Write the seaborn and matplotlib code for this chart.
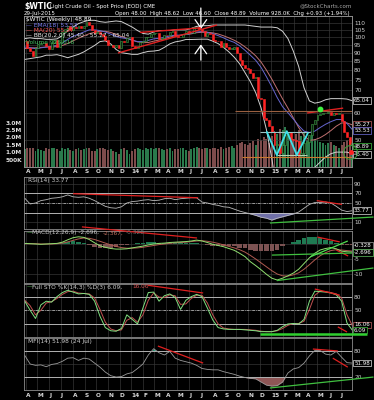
import matplotlib
matplotlib.use("Agg")
import matplotlib.pyplot as plt
import matplotlib.dates as mdates
from matplotlib.ticker import NullLocator
import numpy as np
import pandas as pd
import seaborn as sns

# weekly closes and volume (millions), 29-Mar-2013 .. 31-Jul-2015
weekly_close = [
    97.2,
    92.7, 91.3, 88.0, 93.0,
    95.6, 96.0, 96.0, 94.2, 92.0,
    96.0, 97.9, 93.7, 96.6,
    103.2, 105.9, 108.1, 104.7,
    106.9, 106.0, 107.5, 106.4, 107.7,
    110.5, 108.2, 104.7, 102.9,
    103.8, 102.0, 100.8, 97.9,
    94.6, 94.6, 93.8, 94.8, 92.7,
    97.6, 96.6, 99.3, 100.3,
    94.0, 92.7, 94.4, 96.6, 97.5,
    99.9, 100.3, 102.2, 102.6,
    102.6, 98.9, 99.5, 101.7,
    101.1, 103.7, 104.3, 100.6,
    99.8, 100.0, 102.0, 104.4, 102.7,
    102.7, 106.9, 107.3, 105.7,
    104.1, 100.8, 103.1, 102.1,
    97.9, 97.7, 97.4, 93.7, 96.0,
    93.3, 92.3, 92.4, 93.5,
    89.7, 85.8, 82.8, 81.0, 80.5,
    78.7, 75.8, 76.5, 66.2,
    65.8, 57.8, 57.1, 54.7,
    52.7, 48.4, 48.7, 45.6, 48.2,
    51.7, 52.8, 50.3, 49.8,
    49.6, 44.8, 45.7, 48.9,
    49.1, 51.6, 55.7, 57.2,
    59.2, 59.4, 59.7, 59.7, 60.3,
    59.1, 60.0, 59.6, 59.6,
    56.9, 52.7, 50.9, 48.1, 48.89,
]
weekly_volume_m = [
    1.2, 1.3, 1.25, 1.3, 1.1, 1.2, 1.15, 1.1, 1.3, 1.2,
    1.3, 1.25, 1.2, 1.1, 1.3, 1.2, 1.25, 1.15, 1.1, 1.2,
    1.25, 1.15, 1.2, 1.25, 1.3, 1.1, 1.1, 1.2, 1.25, 1.3,
    1.2, 1.15, 1.2, 1.1, 1.0, 0.9, 1.2, 1.25, 1.15, 0.9,
    1.1, 1.2, 1.3, 1.2, 1.15, 1.25, 1.2, 1.3, 1.2, 1.25,
    1.3, 1.2, 1.15, 1.2, 1.25, 1.1, 1.2, 1.2, 1.25, 1.3,
    1.15, 1.1, 1.2, 1.3, 1.35, 1.25, 1.2, 1.3, 1.25, 1.2,
    1.3, 1.25, 1.2, 1.35, 1.2, 1.3, 1.35, 1.4, 1.3, 1.5,
    1.6, 1.7, 1.55, 1.5, 1.6, 1.75, 1.5, 1.9, 1.8, 2.0,
    1.9, 1.6, 2.1, 2.4, 2.2, 2.6, 2.5, 2.7, 2.3, 2.0,
    1.9, 2.2, 2.5, 2.1, 2.3, 1.8, 2.0, 2.3, 1.9, 1.8,
    1.7, 1.6, 1.5, 1.6, 1.7, 1.5, 1.4, 1.3, 1.5, 1.7,
    1.8, 1.9, 0.93,
]

month_labels = ["A", "M", "J", "J", "A", "S", "O", "N", "D", "14", "F", "M", "A", "M",
                "J", "J", "A", "S", "O", "N", "D", "15", "F", "M", "A", "M", "J", "J"]
price_ticks = [50, 60, 70, 75, 80, 85, 90, 95, 100, 105, 110]
volume_ticks = [0.5, 1.0, 1.5, 2.0, 2.5, 3.0]
volume_tick_labels = ["500K", "1.0M", "1.5M", "2.0M", "2.5M", "3.0M"]

# overlays and indicators, read every second week
bb_upper = [99, 99.5, 99, 99, 98.5, 98.5, 98.8, 101, 104.5, 107,
            109.5, 111, 112, 112, 111, 110.5, 111, 111.5, 111, 109,
            107, 104.5, 102.5, 102, 103.5, 104.5, 104.5, 104.5, 105, 105,
            105, 106, 107.5, 108, 108, 108.5, 108.5, 108.5, 108.5, 108.5,
            108.5, 108.5, 108, 107.5, 107, 107, 107, 106.5, 104, 99,
            91, 82, 71, 65, 64, 64.5, 65.5, 66, 66, 66, 65.8, 65.04]
bb_lower = [86, 86.5, 87, 87.5, 88.5, 88.5, 88.8, 88, 87, 88,
            89, 90.5, 92.5, 94.5, 97, 97.5, 95.5, 92, 90, 89.5,
            89, 89, 90, 90.8, 91, 91.5, 93.3, 95.5, 96.8, 97.4,
            98.4, 98.4, 98.5, 98.6, 98.6, 97.3, 95.7, 93.3, 90.5, 87.3,
            83.5, 78.7, 74, 68.7, 62, 53.5, 44, 35, 30, 28,
            30, 37, 40, 41, 41.5, 43, 44.5, 45.5, 46, 46, 46, 45.4]
ma_20 = [92.5, 93.0, 93.0, 93.3, 93.5, 93.5, 93.8, 94.5, 95.8, 97.5,
         99.2, 100.8, 102.3, 103.3, 104.0, 104.0, 103.2, 101.8, 100.4, 99.2,
         97.9, 96.8, 96.3, 96.4, 97.3, 98.0, 98.9, 100.0, 100.9, 101.2,
         101.7, 102.2, 103.0, 103.3, 103.3, 102.9, 102.1, 100.9, 99.5, 97.9,
         96.0, 93.6, 91.0, 88.1, 84.5, 80.0, 75.3, 70.4, 65.9, 61.9,
         58.0, 54.3, 51.4, 49.8, 50.0, 50.7, 51.8, 53.2, 54.8, 56.0, 56.0, 55.27]
ema_18 = [93.5, 93, 92.5, 93, 93.5, 94, 94.5, 96, 98.5, 100.5,
          102, 103.5, 105, 105, 104.5, 103.5, 102, 100.5, 99.5, 99,
          98, 97, 97, 97.8, 98.8, 99.2, 99.8, 100.8, 101.3, 101.3,
          101.8, 102.5, 103.5, 103.8, 103.3, 102.3, 101, 99.5, 97.8, 96.5,
          94.3, 91.5, 88.5, 85.5, 81.5, 76.5, 71.5, 66.5, 62.5, 60,
          57.5, 55, 53, 52.5, 53, 54.3, 55.5, 56.5, 57.3, 57.3, 55.8, 53.53]
rsi_14 = [60, 48, 50, 55, 57, 60, 61, 63, 67, 63, 62, 63, 60, 55, 49, 43, 40, 39, 42, 50,
          53, 54, 56, 57, 55, 56, 59, 60, 57, 59, 60, 61, 61, 52, 50, 47, 45, 42, 41, 37,
          33, 30, 27, 24, 20, 18, 14, 18, 21, 24, 27, 31, 39, 47, 51, 51, 52, 50, 43, 35,
          32, 33.77]
macd_line = [0.2, 0.1, 0.0, -0.1, 0.0, 0.1, 0.2, 0.6, 1.4, 2.1,
             2.4, 2.2, 1.5, 0.4, -0.6, -1.1, -1.5, -1.7, -1.7, -1.6,
             -1.3, -1.0, -0.7, -0.3, 0.0, 0.2, 0.3, 0.5, 0.6, 0.7,
             0.8, 1.0, 1.3, 1.0, 0.5, -0.1, -0.5, -0.9, -1.5, -2.1,
             -3.1, -4.2, -5.9, -7.2, -8.6, -10.1, -11.4, -12.0, -11.4, -10.6,
             -9.7, -8.4, -6.5, -4.6, -3.1, -2.0, -1.5, -1.2, -1.6, -2.4, -2.6, -2.696]
macd_signal = [0.1, 0.1, 0.1, 0.0, 0.0, 0.0, 0.1, 0.3, 0.7, 1.2,
               1.7, 2.0, 1.9, 1.5, 0.9, 0.3, -0.3, -0.8, -1.2, -1.4,
               -1.4, -1.3, -1.1, -0.8, -0.5, -0.2, 0.0, 0.2, 0.4, 0.5,
               0.6, 0.8, 1.0, 1.1, 0.9, 0.6, 0.2, -0.3, -0.8, -1.3,
               -1.9, -2.7, -3.8, -5.0, -6.3, -7.6, -8.9, -10.0, -10.6, -10.7,
               -10.3, -9.6, -8.4, -6.9, -5.3, -3.9, -2.9, -2.2, -1.9, -2.0, -2.2, -2.367]
macd_hist = [0.1, 0.0, -0.1, -0.1, 0.0, 0.1, 0.1, 0.3, 0.7, 0.9,
             0.7, 0.2, -0.4, -1.1, -1.5, -1.4, -1.2, -0.9, -0.5, -0.2,
             0.1, 0.3, 0.4, 0.5, 0.5, 0.4, 0.3, 0.3, 0.2, 0.2,
             0.2, 0.2, 0.3, -0.1, -0.4, -0.7, -0.7, -0.6, -0.7, -0.8,
             -1.2, -1.5, -2.1, -2.2, -2.3, -2.5, -2.5, -2.0, -0.8, 0.1,
             0.6, 1.2, 1.9, 2.3, 2.2, 1.9, 1.4, 1.0, 0.3, -0.4, -0.4, -0.328]
sto_k = [70, 50, 32, 62, 70, 68, 80, 89, 94, 90, 86, 87, 85, 70, 37, 12, 5, 4, 10, 40,
         30, 20, 55, 89, 90, 70, 82, 86, 78, 52, 72, 80, 85, 80, 55, 29, 12, 9, 8, 8,
         8, 7, 6, 5, 3, 3, 3, 6, 14, 20, 21, 20, 30, 70, 92, 91, 90, 88, 84, 70,
         22, 6.09]
sto_d = [72, 60, 40, 50, 66, 69, 76, 85, 91, 92, 88, 87, 86, 77, 52, 24, 9, 5, 7, 28,
         34, 24, 40, 72, 88, 79, 78, 84, 82, 63, 64, 76, 83, 83, 66, 40, 20, 11, 9, 8,
         8, 8, 7, 6, 4, 3, 3, 5, 10, 17, 21, 21, 26, 52, 83, 92, 91, 89, 86, 77,
         40, 16.06]
mfi_14 = [69, 50, 47, 48, 44, 49, 51, 56, 63, 64, 58, 63, 61, 52, 43, 32, 24, 21, 22, 28,
          31, 40, 50, 70, 84, 75, 70, 78, 63, 58, 55, 52, 47, 40, 38, 37, 37, 33, 30, 27,
          23, 20, 18, 17, 10, 3, 1, 2, 10, 30, 39, 42, 52, 68, 80, 80, 72, 70, 78, 65,
          53, 51.98]

# chartist annotations, (date, value) end points
price_red_lines = [(("2013-11-27", 89.8), ("2014-08-12", 108.5)),
                   (("2014-01-23", 103.2), ("2014-06-29", 106.4)),
                   (("2015-04-04", 59.9), ("2015-07-07", 61.9))]
price_hlines = [("2014-09-28", "2015-08-02", 60.7, "#9a6040"),
                ("2014-12-02", "2015-04-11", 52.7, "#9cc4c4"),
                ("2015-01-15", "2015-04-05", 45.1, "#b8d0b0"),
                ("2014-10-16", "2015-08-02", 44.5, "#c87a30")]
w_dates = ["2014-12-20", "2015-01-15", "2015-02-10", "2015-03-08", "2015-04-06"]
w_prices = [52.7, 45.1, 53.0, 45.1, 52.3]
arrow_date = "2014-07-01"
rsi_lines = [(("2013-08-02", 69.6), ("2014-06-24", 61), "#e02020", True),
             (("2015-04-29", 55), ("2015-07-04", 47), "#e02020", True),
             (("2014-12-28", 7.9), ("2015-09-24", 20.5), "#40c040", False)]
macd_lines = [(("2013-08-25", 5.7), ("2014-06-21", 2.0), "#e02020", False),
              (("2015-05-01", 2.3), ("2015-06-28", 0.7), "#e02020", True),
              (("2015-06-19", -2.0), ("2015-07-20", -4.0), "#e02020", True),
              (("2015-01-02", -3.7), ("2015-08-02", -3.0), "#40c040", True),
              (("2015-04-12", -4.3), ("2015-07-19", 1.0), "#50e050", True),
              (("2015-01-15", -12.2), ("2015-09-24", -8.0), "#40c040", False)]
sto_lines = [(("2014-02-13", 105), ("2014-07-07", 88), "#e02020", True),
             (("2015-04-24", 96.8), ("2015-06-28", 83.3), "#e02020", True),
             (("2015-06-23", 13.5), ("2015-07-17", 2.3), "#e02020", True)]
mfi_lines = [(("2014-03-11", 90), ("2014-07-07", 52), "#e02020", True),
             (("2015-04-19", 83.3), ("2015-06-23", 79), "#e02020", True),
             (("2015-06-10", 63), ("2015-07-19", 43), "#e02020", True),
             (("2014-12-28", -3.3), ("2015-09-24", 21), "#40c040", False)]

week_dates = pd.date_range("2013-03-29", periods=len(weekly_close), freq="7D")
ind_dates = week_dates[::2]
month_starts = pd.date_range("2013-04-01", "2015-07-01", freq="MS")
X0, X1 = pd.Timestamp("2013-03-27"), pd.Timestamp("2015-07-30")

sns.set_theme(style="dark")
plt.rcParams["font.family"] = ["DejaVu Sans"]

W, H = 374, 400
fig = plt.figure(figsize=(W / 100, H / 100), dpi=100, facecolor="black")
LBL = "#cfcfcf"
GRID = "#3a3a3a"
FS = 4.2


def ftext(x, y, s, **kw):
    kw.setdefault("fontsize", FS)
    kw.setdefault("color", LBL)
    kw.setdefault("va", "center")
    fig.text(x / W, 1 - y / H, s, **kw)


def panel(top, bottom):
    ax = fig.add_axes([24 / W, 1 - bottom / H, 328 / W, (bottom - top) / H])
    ax.set_facecolor("black")
    for sp in ax.spines.values():
        sp.set_color("#8c8c8c")
        sp.set_linewidth(0.6)
    ax.set_xlim(X0, X1)
    ax.set_xticks(month_starts)
    ax.set_xticklabels([])
    ax.grid(True, color=GRID, linewidth=0.45)
    ax.tick_params(axis="both", length=0, labelsize=FS, labelcolor=LBL, pad=1.5)
    ax.yaxis.tick_right()
    return ax


def seg(ax, p0, p1, color, clip=True, lw=0.9):
    ax.plot([pd.Timestamp(p0[0]), pd.Timestamp(p1[0])], [p0[1], p1[1]],
            color=color, lw=lw, clip_on=clip, solid_capstyle="butt", zorder=5)


def value_box(ax, val, text, edge, tc="white"):
    ax.annotate(text, xy=(1.0, val), xycoords=ax.get_yaxis_transform(),
                xytext=(1.5, 0), textcoords="offset points", ha="left", va="center",
                fontsize=4.0, color=tc, annotation_clip=False, zorder=6,
                bbox=dict(boxstyle="square,pad=0.15", fc="black", ec=edge, lw=0.5))


def month_axis(ax, pad):
    ax.set_xticklabels(month_labels, ha="left", fontweight="bold")
    ax.tick_params(axis="x", pad=pad, labelsize=FS, labelcolor="#d8d8d8")


# ---- price + volume panel ----
ax_vol = panel(16, 167)
ax_vol.grid(False)
ax_vol.grid(True, axis="x", color=GRID, linewidth=0.45)
ax_vol.set_ylim(0, 10.2)
closes = np.array(weekly_close)
opens = np.r_[closes[0], closes[:-1]]
up = closes >= opens
ax_vol.bar(week_dates, weekly_volume_m, width=5.0, linewidth=0,
           color=np.where(up, "#2a7a4c", "#7d4c4c"))
month_axis(ax_vol, 1.5)

ax_p = ax_vol.twinx()
ax_p.patch.set_visible(False)
ax_p.set_yscale("log")
ax_p.set_ylim(41.6, 115.3)
ax_p.set_xlim(X0, X1)
ax_p.set_yticks(price_ticks)
ax_p.set_yticklabels([str(t) for t in price_ticks])
ax_p.yaxis.set_minor_locator(NullLocator())
ax_p.grid(True, axis="y", color=GRID, linewidth=0.45)
ax_p.tick_params(axis="y", length=0, labelsize=FS, labelcolor=LBL, pad=1.5)
for sp in ax_p.spines.values():
    sp.set_color("#8c8c8c")
    sp.set_linewidth(0.6)

ax_vol.yaxis.tick_left()
ax_vol.set_yticks(volume_ticks)
ax_vol.set_yticklabels(volume_tick_labels, fontweight="bold")
ax_vol.tick_params(axis="y", length=0, labelsize=FS, labelcolor="#e0e0e0", pad=1.5)

sns.lineplot(x=ind_dates, y=bb_upper, ax=ax_p, color="#d0d0d0", linewidth=0.7)
sns.lineplot(x=ind_dates, y=bb_lower, ax=ax_p, color="#d0d0d0", linewidth=0.7)
sns.lineplot(x=ind_dates, y=ma_20, ax=ax_p, color="#c07070", linewidth=0.7)
sns.lineplot(x=ind_dates, y=ema_18, ax=ax_p, color="#6666d0", linewidth=0.7)

body_lo = np.minimum(opens, closes)
body_h = np.maximum(np.abs(closes - opens), 0.3)
ax_p.bar(week_dates, body_h, bottom=body_lo, width=5.0, zorder=4,
         color=np.where(up, "#0c2412", "#ff2424"),
         edgecolor=np.where(up, "#3fa045", "#ff2424"), linewidth=0.4)

for p0, p1 in price_red_lines:
    seg(ax_p, p0, p1, "#e02020", lw=1.0)
for d0, d1, lvl, col in price_hlines:
    seg(ax_p, (d0, lvl), (d1, lvl), col, lw=0.8)
ax_p.plot(pd.to_datetime(w_dates), w_prices, color="#40e0e8", lw=1.3, zorder=6)
ad = mdates.date2num(pd.Timestamp(arrow_date))
ax_p.annotate("", xy=(ad, 103.6), xytext=(ad, 124.0), annotation_clip=False,
              arrowprops=dict(arrowstyle="->,head_length=0.5,head_width=0.35", color="white", lw=0.9))
ax_p.annotate("", xy=(ad, 97.0), xytext=(ad, 84.0), annotation_clip=False,
              arrowprops=dict(arrowstyle="->,head_length=0.5,head_width=0.35", color="white", lw=0.9))
ax_p.plot([pd.Timestamp("2015-05-07")], [61.5], "o", color="#40f040", ms=3.2, zorder=7)
ax_p.plot([pd.Timestamp("2015-07-25")], [46.0], "o", mfc="none", mec="#3c9c3c", ms=10, mew=0.7,
          zorder=7, clip_on=False)
ax_p.plot([pd.Timestamp("2015-07-27")], [46.0], "o", color="#ff2020", ms=2.5, zorder=7, clip_on=False)

value_box(ax_p, 65.04, "65.04", "#e0e0e0")
value_box(ax_p, 55.6, "55.27", "#c06060")
value_box(ax_p, 53.2, "53.53", "#7070e0")
value_box(ax_p, 47.9, "48.89", "#40c040")
value_box(ax_p, 45.3, "45.40", "#e0e0e0")

ftext(26, 19.5, "$WTIC (Weekly) 48.89", color="#ffffff")
ftext(26, 25, "— EMA(18) 53.53", color="#7a7aee")
ftext(26, 30.5, "— MA(20) 55.27", color="#ff5a5a")
ftext(26, 36, "— BB(20,2.0) 45.40 - 55.27 - 65.04", color="#e8e8e8")
ftext(26, 42.5, "Volume 928,016", color="#40c060")

# ---- RSI ----
ax_rsi = panel(177, 229)
ax_rsi.set_ylim(-4.7, 104.7)
ax_rsi.set_yticks([10, 30, 50, 70, 90])
ax_rsi.set_yticklabels(["10", "", "50", "70", "90"])
rsi_arr = np.array(rsi_14)
ax_rsi.fill_between(ind_dates, rsi_arr, 30, where=rsi_arr < 30, interpolate=True,
                    color="#7070a8", linewidth=0)
for lvl in (70, 30):
    ax_rsi.axhline(lvl, color="#c8c8c8", lw=0.6)
ax_rsi.axhline(50, color="#c8c8c8", lw=0.5, ls=(0, (4, 1.5, 1, 1.5)))
sns.lineplot(x=ind_dates, y=rsi_14, ax=ax_rsi, color="#b8b8b8", linewidth=0.6)
for p0, p1, col, clip in rsi_lines:
    seg(ax_rsi, p0, p1, col, clip=clip)
value_box(ax_rsi, 33.77, "33.77", "#e0e0e0")
ftext(28, 180.5, "RSI(14) 33.77")

# ---- MACD ----
ax_macd = panel(231, 283)
ax_macd.set_ylim(-13, 4.33)
ax_macd.set_yticks([-10, -5, 0])
ax_macd.set_yticklabels(["-10", "-5", ""])
hist_arr = np.array(macd_hist)
ax_macd.bar(ind_dates, hist_arr, width=12, linewidth=0,
            color=np.where(hist_arr > 0, "#1f7a52", "#7c5252"))
sns.lineplot(x=ind_dates, y=macd_signal, ax=ax_macd, color="#b05a50", linewidth=0.7)
sns.lineplot(x=ind_dates, y=macd_line, ax=ax_macd, color="#90e070", linewidth=0.7)
for p0, p1, col, clip in macd_lines:
    seg(ax_macd, p0, p1, col, clip=clip)
value_box(ax_macd, -0.5, "-0.328", "#a0a0a0")
value_box(ax_macd, -2.8, "-2.696", "#60c060")
ftext(27, 232.8, "—", color="#60d060")
ftext(32, 232.8, "MACD(12,26,9) -2.696,", color="#c8c8c8")
ftext(103, 232.8, "-2.367,", color="#c07060")
ftext(126, 232.8, "-0.328", color="#707070")

# ---- Full STO ----
ax_sto = panel(284, 337)
ax_sto.set_ylim(-8.7, 107.8)
ax_sto.set_yticks([20, 50, 80])
ax_sto.set_yticklabels(["", "50", "80"])
for lvl in (80, 20):
    ax_sto.axhline(lvl, color="#c8c8c8", lw=0.6)
ax_sto.axhline(50, color="#c8c8c8", lw=0.5, ls=(0, (4, 1.5, 1, 1.5)))
sns.lineplot(x=ind_dates, y=sto_d, ax=ax_sto, color="#c05050", linewidth=0.7)
sns.lineplot(x=ind_dates, y=sto_k, ax=ax_sto, color="#80e080", linewidth=0.7)
for p0, p1, col, clip in sto_lines:
    seg(ax_sto, p0, p1, col, clip=clip)
seg(ax_sto, ("2014-12-02", -2.3), ("2015-09-06", -2.3), "#30d030", clip=False, lw=1.8)
value_box(ax_sto, 18, "16.06", "#c06060")
value_box(ax_sto, 6.5, "6.09", "#40c040")
ftext(27, 287, "—", color="#60d060")
ftext(32, 287, "Full STO %K(14,3) %D(3) 6.09,", color="#c8c8c8")
ftext(132, 287, "16.06", color="#d05050")

# ---- MFI ----
ax_mfi = panel(338, 390)
ax_mfi.set_ylim(-7.8, 107.8)
ax_mfi.set_yticks([20, 50, 80])
ax_mfi.set_yticklabels(["20", "", "80"])
mfi_arr = np.array(mfi_14)
ax_mfi.fill_between(ind_dates, mfi_arr, 20, where=mfi_arr < 20, interpolate=True,
                    color="#8e5656", linewidth=0)
ax_mfi.fill_between(ind_dates, mfi_arr, 80, where=mfi_arr > 80, interpolate=True,
                    color="#30a080", linewidth=0)
for lvl in (80, 20):
    ax_mfi.axhline(lvl, color="#c8c8c8", lw=0.6)
sns.lineplot(x=ind_dates, y=mfi_14, ax=ax_mfi, color="#9a9a9a", linewidth=0.6)
for p0, p1, col, clip in mfi_lines:
    seg(ax_mfi, p0, p1, col, clip=clip)
value_box(ax_mfi, 51.98, "51.98", "#e0e0e0")
ftext(28, 341.5, "MFI(14) 51.98 (24 Jul)")
month_axis(ax_mfi, 2.2)

for ax in (ax_vol, ax_p, ax_rsi, ax_macd, ax_sto, ax_mfi):
    ax.set_xlabel("")
    ax.set_ylabel("")

# ---- header ----
ftext(24, 6.5, "$WTIC", color="white", fontsize=5.6, fontweight="bold")
ftext(50, 6.5, "Light Crude Oil - Spot Price (EOD) CME", color="white", fontsize=4.0)
ftext(24, 13, "29-Jul-2015", color="white", fontsize=4.0)
ftext(352, 6, "@StockCharts.com", color="#a8a8a8", fontsize=4.0, ha="right")
ftext(350, 13, "Open 48.00  High 48.62  Low 46.60  Close 48.89  Volume 928.0K  Chg +0.93 (+1.94%)",
      color="white", fontsize=3.9, ha="right")

fig.savefig("out.png", dpi=100, facecolor="black")
